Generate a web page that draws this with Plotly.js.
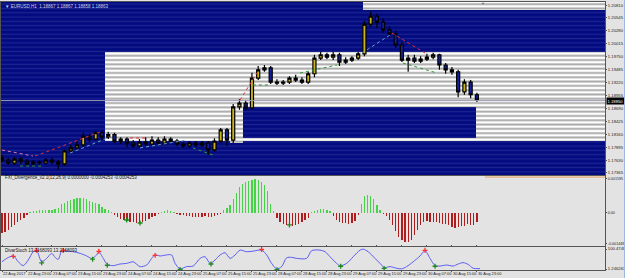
<!DOCTYPE html>
<html><head><meta charset="utf-8">
<script src="https://cdn.plot.ly/plotly-3.0.1.min.js"></script>
<style>
html,body{margin:0;padding:0;background:#e3e3e3;overflow:hidden}
#chart{width:625px;height:278px;position:absolute;left:0;top:0}
#edge{position:absolute;right:0;top:0;width:1px;height:278px;background:#9cb8e0}
</style></head><body><div id="chart"></div><div id="edge"></div>
<script>
// ---------- DATA ----------
const tickLabels = ["22 Aug 2017","22 Aug 23:00","23 Aug 07:00","23 Aug 15:00","23 Aug 23:00","24 Aug 07:00","24 Aug 15:00","24 Aug 23:00","25 Aug 07:00","25 Aug 15:00","25 Aug 23:00","28 Aug 07:00","28 Aug 15:00","28 Aug 23:00","29 Aug 07:00","29 Aug 15:00","29 Aug 23:00","30 Aug 07:00","30 Aug 15:00","30 Aug 23:00"];
const priceTicks = [1.20810,1.20545,1.20280,1.20015,1.19750,1.19485,1.19220,1.18955,1.18690,1.18425,1.18160,1.17895,1.17630,1.17365];

// two-hour candles (x = hours from 22 Aug 15:00, step 2)
const open = [1.1767,1.1763,1.1757,1.1765,1.1761,1.1755,1.1759,1.1757,1.1763,1.1759,
1.1755,1.1782,1.1788,1.1794,1.1812,1.1806,1.1819,1.1810,1.1815,1.1802,
1.1806,1.1798,1.1792,1.1800,1.1796,1.1804,1.1798,1.1806,1.1802,1.1796,
1.1792,1.1798,1.1794,1.1798,1.1784,1.1802,1.1825,1.1804,1.1872,1.1880,
1.1870,1.1931,1.1948,1.1952,1.1923,1.1921,1.1923,1.1931,1.1927,1.1923,
1.1940,1.1972,1.1979,1.1974,1.1979,1.1964,1.1968,1.1972,1.1981,1.2042,
1.2058,1.2046,1.2030,1.2022,1.1999,1.1968,1.1972,1.1966,1.1970,1.1974,
1.1979,1.1958,1.1948,1.1944,1.1903,1.1923,1.1897];
const high = [1.1774,1.1767,1.1769,1.1769,1.1765,1.1763,1.1763,1.1767,1.1767,1.1763,
1.1784,1.1794,1.1802,1.1819,1.1817,1.1823,1.1823,1.1821,1.1819,1.1810,
1.1810,1.1804,1.1806,1.1810,1.1812,1.1810,1.1812,1.1810,1.1806,1.1800,
1.1802,1.1802,1.1802,1.1802,1.1808,1.1829,1.1829,1.1878,1.1888,1.1886,
1.1942,1.1956,1.1958,1.1956,1.1929,1.1927,1.1935,1.1938,1.1933,1.1944,
1.1979,1.1985,1.1983,1.1985,1.1983,1.1974,1.1976,1.1985,1.2048,1.2067,
1.2063,1.2054,1.2038,1.2028,1.2005,1.1979,1.1979,1.1976,1.1981,1.1983,
1.1981,1.1962,1.1954,1.1948,1.1929,1.1927,1.1901];
const low = [1.1759,1.1753,1.1753,1.1755,1.1751,1.1751,1.1751,1.1753,1.1755,1.1743,
1.1751,1.1778,1.1784,1.1790,1.1800,1.1802,1.1804,1.1806,1.1798,1.1796,
1.1790,1.1788,1.1788,1.1792,1.1792,1.1794,1.1794,1.1798,1.1792,1.1788,
1.1788,1.1790,1.1790,1.1774,1.1780,1.1798,1.1792,1.1798,1.1866,1.1864,
1.1866,1.1927,1.1944,1.1919,1.1917,1.1917,1.1919,1.1923,1.1919,1.1919,
1.1933,1.1968,1.1970,1.1968,1.1956,1.1960,1.1964,1.1968,1.1976,1.2036,
1.2034,1.2024,1.2013,1.1993,1.1964,1.1944,1.1962,1.1962,1.1966,1.1970,
1.1948,1.1940,1.1938,1.1892,1.1897,1.1890,1.1882];
const close = [1.1763,1.1757,1.1765,1.1761,1.1755,1.1759,1.1757,1.1763,1.1759,1.1755,
1.1782,1.1788,1.1794,1.1812,1.1806,1.1819,1.1810,1.1815,1.1802,1.1806,
1.1798,1.1792,1.1800,1.1796,1.1804,1.1798,1.1806,1.1802,1.1796,1.1792,
1.1798,1.1794,1.1798,1.1784,1.1802,1.1825,1.1804,1.1872,1.1880,1.1870,
1.1931,1.1948,1.1952,1.1923,1.1921,1.1923,1.1931,1.1927,1.1923,1.1940,
1.1972,1.1979,1.1974,1.1979,1.1964,1.1968,1.1972,1.1981,1.2042,1.2058,
1.2046,1.2030,1.2022,1.1999,1.1968,1.1972,1.1966,1.1970,1.1974,1.1979,
1.1958,1.1948,1.1944,1.1903,1.1923,1.1897,1.1886];

// zones (hours / prices)
const whiteZoneStart = [33, 115.5, 73];
const whiteZoneEnd   = [200, 200, 77.1];
const whiteZoneLow   = [1.18021, 1.20708, 1.17980];
const whiteZoneHigh  = [1.19846, 1.20950, 1.18718];
const navyZoneStart = [-5, 77.1];
const navyZoneEnd   = [200, 151.7];
const navyZoneLow   = [1.1700, 1.18083];
const navyZoneHigh  = [1.2100, 1.18718];

const bidPrice = 1.18850;

// divergence lines
const divRedH = [10.6,31.4,null,41,46.4,null,76.2,81.6,null,124.8,135.4];
const divRedP = [1.17713,1.18206,null,1.18083,1.18083,null,1.18862,1.19416,null,1.20236,1.19826];
const divPinkH = [0,9.9];
const divPinkP = [1.17837,1.17713];
const divGreenH = [5.8,13.1,null,61.1,67.5,null,80.3,85.8,null,95.4,107.2,null,128.3,139.2];
const divGreenP = [1.17508,1.17508,null,1.17878,1.17734,null,1.1917,1.1917,null,1.19416,1.1958,null,1.19621,1.19416];
const divBlueH = [21.8,34.6,null,44.2,59.2,null,115.2,124.2];
const divBlueP = [1.17775,1.18103,null,1.17878,1.18042,null,1.19826,1.20195];

// hourly histogram
const hist = [-0.00093,-0.00089,-0.00079,-0.00065,-0.00056,-0.00042,-0.00033,-0.00023,-0.00009,
0.00005,0.00009,0.00009,0.00014,0.00014,0.00014,0.00014,0.00014,0.00019,0.00023,
0.00042,0.00047,0.00056,0.00061,0.00065,0.00070,0.00070,0.00070,0.00065,0.00056,0.00051,0.00047,0.00042,0.00028,0.00019,0.00014,0.00005,
-0.00009,-0.00019,-0.00028,-0.00033,-0.00037,-0.00042,-0.00042,-0.00047,-0.00047,-0.00042,-0.00037,-0.00028,-0.00019,-0.00014,-0.00005,
0.00005,0.00009,0.00014,0.00009,0.00005,
-0.00005,-0.00009,-0.00009,-0.00014,-0.00014,-0.00019,-0.00019,-0.00019,-0.00019,-0.00014,-0.00019,-0.00019,-0.00014,-0.00009,-0.00005,
0.00014,0.00023,0.00037,0.00065,0.00093,0.00121,0.00135,0.00144,0.00149,0.00154,0.00158,0.00154,0.00144,0.00130,0.00103,0.00042,0.00009,
-0.00023,-0.00042,-0.00051,-0.00056,-0.00056,-0.00061,-0.00056,-0.00051,-0.00042,-0.00033,-0.00023,
0.00005,0.00009,0.00014,0.00019,0.00019,0.00014,0.00009,
-0.00014,-0.00033,-0.00042,-0.00047,-0.00047,-0.00051,-0.00047,-0.00037,-0.00009,
0.00042,0.00079,0.00084,0.00079,0.00065,0.00037,0.00014,
-0.00005,-0.00014,-0.00033,-0.00056,-0.00084,-0.00112,-0.00126,-0.00135,-0.00135,-0.00126,-0.00103,-0.00079,-0.00056,-0.00042,-0.00037,-0.00042,-0.00042,-0.00042,-0.00047,-0.00051,-0.00051,-0.00056,-0.00065,-0.00070,-0.00065,-0.00061,-0.00061,-0.00051,-0.00056,-0.00056,-0.00042];
const histCrossH = [39.9,44.2,92];
const histCrossV = [-0.00034,-0.00048,-0.00057];
const orangeLevel = 0.00166;
const orangeH = [154.6,200];

// stochastic
const stochH = [0,1.5,3.6,5.2,6.8,8.4,10,11.1,12.7,14.3,15.9,17,18,19.1,20.7,22.8,25,27.1,28.7,30.3,31,32.4,33.7,35.6,37.8,39.9,42,44.2,46.3,47.9,49,50.6,52.7,54.3,55.4,57,59.1,61.2,63.4,65,66.6,68.2,69.8,71.4,73,74.6,76.2,78.3,80.4,83.1,84.7,86.3,87.9,89.5,91.1,92.7,94.3,97.5,99.1,101.8,103.4,105,107.1,108.2,110.3,112.4,114.6,115.6,117.2,119.4,121.5,122.3,124.2,126.3,127.9,129.5,131.6,133.8,135.4,137,138.6,140.2,142.3,144.4,146,147.6,149.2,150.8,153];
const stochV = [37.5,54,66,37,18,46,87,92,37,54,79,59,49,90,90,87,79,66,54,71,87,54,24,18,26,29,37,13,21,54,71,66,71,71,29,2,13,16,54,62,29,46,71,82,54,71,95,87,90,95,71,29,2,13,57,59,54,54,92,95,87,62,29,18,29,62,95,100,87,54,21,8,13,5,2,13,37,66,92,54,18,16,21,16,26,33,24,5,3];
const stochRedH = [3.6,11.1,19.6,31,49,83.1,135.4];
const stochRedV = [64,94,93,89,69,98,94];
const stochGreenH = [12.7,29,33.7,57,66.9,88,108.4,122.3,138.6];
const stochGreenV = [32,50,20,-1,26,-2,15,4,15];

// ---------- BUILD ----------
const candleH = open.map((_, i) => 2 * i);
const histH = hist.map((_, i) => i);
const tickH = tickLabels.map((_, i) => 8 * i);

function zoneBar(s, e, lo, hi, bg, fg, sol) {
  return {
    type: 'bar', xaxis: 'x', yaxis: 'y', hoverinfo: 'skip',
    x: s.map((v, i) => (v + e[i]) / 2),
    width: s.map((v, i) => e[i] - v),
    base: lo, y: lo.map((v, i) => hi[i] - v),
    marker: {color: bg, line: {width: 0},
      pattern: {shape: '-', fillmode: 'replace', bgcolor: bg, fgcolor: fg, size: 4.3, solidity: sol}}
  };
}
const navyBg = zoneBar([navyZoneStart[0]], [navyZoneEnd[0]], [navyZoneLow[0]], [navyZoneHigh[0]], '#020a80', '#1c2490', 0.3);
const whiteZones = zoneBar(whiteZoneStart, whiteZoneEnd, whiteZoneLow, whiteZoneHigh, '#ffffff', '#a9a9a9', 0.45);
const navyBox = zoneBar([navyZoneStart[1]], [navyZoneEnd[1]], [navyZoneLow[1]], [navyZoneHigh[1]], '#020a80', '#1c2490', 0.3);

const dotted = (h, p, c) => ({type: 'scatter', mode: 'lines', x: h, y: p, xaxis: 'x', yaxis: 'y',
  line: {color: c, width: 1, dash: 'dot'}, connectgaps: false, hoverinfo: 'skip'});

const traces = [
  navyBg, whiteZones, navyBox,
  {type: 'candlestick', x: candleH, open: open, high: high, low: low, close: close, xaxis: 'x', yaxis: 'y',
   whiskerwidth: 0, hoverinfo: 'skip',
   increasing: {fillcolor: '#c8b41a', line: {color: '#000000', width: 1.2}},
   decreasing: {fillcolor: '#14209a', line: {color: '#000000', width: 1.2}}},
  dotted(divPinkH, divPinkP, '#e87aa8'),
  dotted(divRedH, divRedP, '#e03030'),
  dotted(divGreenH, divGreenP, '#2f9a3a'),
  dotted(divBlueH, divBlueP, '#6aa6c8'),
  {type: 'scatter', mode: 'lines', x: [-5, 200], y: [bidPrice, bidPrice], xaxis: 'x', yaxis: 'y',
   line: {color: '#9c9cb4', width: 1}, hoverinfo: 'skip'},
  {type: 'bar', x: histH, y: hist, xaxis: 'x', yaxis: 'y2', width: 0.42, hoverinfo: 'skip',
   marker: {color: hist.map(v => v >= 0 ? '#46d246' : '#b01c1c'), line: {width: 0}}},
  {type: 'scatter', mode: 'markers', x: histCrossH, y: histCrossV, xaxis: 'x', yaxis: 'y2',
   marker: {symbol: 'cross-thin', size: 3.5, line: {color: '#1e8a1e', width: 1.3}}, hoverinfo: 'skip'},
  {type: 'scatter', mode: 'lines', x: orangeH, y: [orangeLevel, orangeLevel], xaxis: 'x', yaxis: 'y2',
   line: {color: '#e8a060', width: 1}, hoverinfo: 'skip'},
  {type: 'scatter', mode: 'lines', x: stochH, y: stochV, xaxis: 'x', yaxis: 'y3',
   line: {color: '#5c5cf2', width: 1, shape: 'spline', smoothing: 0.8}, hoverinfo: 'skip'},
  {type: 'scatter', mode: 'markers', x: stochRedH, y: stochRedV, xaxis: 'x', yaxis: 'y3',
   marker: {symbol: 'cross-thin', size: 3.5, line: {color: '#ff3030', width: 1.3}}, hoverinfo: 'skip'},
  {type: 'scatter', mode: 'markers', x: stochGreenH, y: stochGreenV, xaxis: 'x', yaxis: 'y3',
   marker: {symbol: 'cross-thin', size: 3.5, line: {color: '#1e8a1e', width: 1.3}}, hoverinfo: 'skip'}
];

const font = 'Liberation Sans Narrow, Liberation Sans, Arial, sans-serif';
const yCommon = {side: 'right', showgrid: false, zeroline: false, showline: true, mirror: true,
  linecolor: '#555555', linewidth: 1, ticks: 'outside', ticklen: 1, tickcolor: '#555555',
  tickfont: {size: 4.2, color: '#222222', family: font}, fixedrange: true};

const layout = {
  width: 625, height: 278,
  margin: {l: 1, r: 20, t: 2, b: 8, pad: 0},
  paper_bgcolor: '#e3e3e3', plot_bgcolor: '#e3e3e3',
  showlegend: false, barmode: 'overlay', bargap: 0,
  xaxis: {range: [-0.32, 193], anchor: 'y3', tickvals: tickH, ticktext: tickLabels,
    ticks: 'outside', ticklen: 1, tickcolor: '#555555', ticklabelposition: 'outside right',
    tickangle: 0, ticklabelstandoff: -1,
    tickfont: {size: 4, color: '#222222', family: font},
    showgrid: false, zeroline: false, showline: true, mirror: 'all', linecolor: '#555555',
    rangeslider: {visible: false}, fixedrange: true},
  yaxis: Object.assign({}, yCommon, {domain: [0.3545, 1], range: [1.17324, 1.20872],
    tickvals: priceTicks, ticktext: priceTicks.map(v => v.toFixed(5))}),
  yaxis2: Object.assign({}, yCommon, {domain: [0.0896, 0.3507], range: [-0.00155, 0.00171],
    tickfont: {size: 3.7, color: '#222222', family: font},
    tickvals: [0.001595, 0, -0.001449], ticktext: ['0.001595', '0.00', '-0.001449']}),
  yaxis3: Object.assign({}, yCommon, {domain: [0, 0.0858], range: [-3.7, 110.4],
    tickvals: [100.4748, 1.246263], ticktext: ['100.4748', '1.246263']}),
  annotations: [
    {xref: 'paper', yref: 'paper', x: 0.004, y: 0.985, xanchor: 'left', yanchor: 'middle', showarrow: false,
     text: '▼ EURUSD,H1  1.18867 1.18867 1.18858 1.18863', font: {size: 4.5, color: '#d0d0e0', family: font}},
    {xref: 'paper', yref: 'paper', x: 0.004, y: 0.3433, xanchor: 'left', yanchor: 'middle', showarrow: false,
     text: 'FXI_Divergence_v2.1(12,26,9) 0.0000000 -0.0004253 -0.0004253', font: {size: 4.5, color: '#111111', family: font}},
    {xref: 'paper', yref: 'paper', x: 0.004, y: 0.0746, xanchor: 'left', yanchor: 'middle', showarrow: false,
     text: 'DivarStoch 13.2168093 13.2168093', font: {size: 4.5, color: '#111111', family: font}},
    {xref: 'paper', yref: 'y', x: 1, y: bidPrice, xanchor: 'left', yanchor: 'middle', xshift: 1, showarrow: false,
     text: bidPrice.toFixed(5), bgcolor: '#000000', borderpad: 0.5, font: {size: 4.2, color: '#ffffff', family: font}},
    {xref: 'x', yref: 'paper', x: 153.9, y: 0.993, xanchor: 'center', yanchor: 'middle', showarrow: false,
     text: '▼', font: {size: 4, color: '#707070', family: font}}
  ]
};

Plotly.newPlot('chart', traces, layout, {staticPlot: true, displayModeBar: false});
</script></body></html>
